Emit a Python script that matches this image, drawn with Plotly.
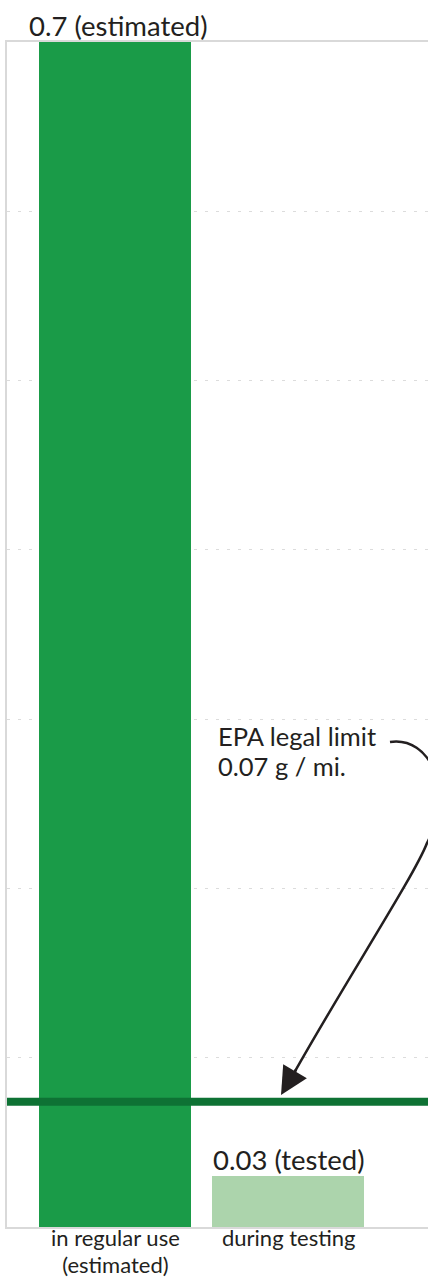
import plotly.graph_objects as go

# ---- data ----
categories = ["in regular use<br>(estimated)", "during testing"]
values = [0.7, 0.03]
value_labels = ["0.7 (estimated)", "0.03 (tested)"]
bar_colors = ["#1a9b48", "#acd4ac"]
epa_limit = 0.074          # drawn position of the legal-limit line
epa_label = "EPA legal limit<br>0.07 g / mi."
y_ticks = [0, 0.1, 0.2, 0.3, 0.4, 0.5, 0.6, 0.7]

TEXT = "#231f20"
FONT = "Lato"

W, H = 428, 1278
ML, MR, MT, MB = 7, 0, 42, 51
PW, PH = W - ML - MR, H - MT - MB


def px_to_paper(px, py):
    return (px - ML) / PW, (H - MB - py) / PH


def sized(text, size):
    # keep visual size while the base font size controls the line spacing
    return "<br>".join(f'<span style="font-size:{size}px">{t}</span>' for t in text.split("<br>"))


fig = go.Figure()
fig.add_trace(go.Bar(
    x=list(range(len(categories))), y=values,
    marker=dict(color=bar_colors, line=dict(width=0)),
    width=0.88, hoverinfo="skip",
))

# value labels above the bars
for i, (v, lab) in enumerate(zip(values, value_labels)):
    fig.add_annotation(x=i, y=v, text=lab, showarrow=False, yanchor="bottom",
                       yshift=-2, xshift=3 if i == 0 else 0,
                       font=dict(family=FONT, size=27.5, color=TEXT))

# category labels under the bars
for i, cat in enumerate(categories):
    fig.add_annotation(x=i, y=0, yref="paper", text=sized(cat, 22), showarrow=False,
                       yanchor="top", yshift=5, align="center",
                       font=dict(family=FONT, size=20.5, color=TEXT))

# legal limit line
fig.add_shape(type="line", xref="paper", yref="y", x0=0, x1=1,
              y0=epa_limit, y1=epa_limit, line=dict(color="#0e7234", width=8),
              layer="above")

# EPA label
lx, ly = px_to_paper(216, 751)
fig.add_annotation(xref="paper", yref="paper", x=lx, y=ly, text=sized(epa_label, 25.5),
                   showarrow=False, xanchor="left", yanchor="middle", align="left",
                   font=dict(family=FONT, size=23.46, color=TEXT))

# curved arrow path
pts = [(390, 742), (430, 736), (455, 790), (427, 843),
       (415, 875), (340, 990), (289, 1082)]
pp = [px_to_paper(*p) for p in pts]
path = "M {:.5f},{:.5f} C {:.5f},{:.5f} {:.5f},{:.5f} {:.5f},{:.5f} C {:.5f},{:.5f} {:.5f},{:.5f} {:.5f},{:.5f}".format(
    *[c for p in pp for c in p])
fig.add_shape(type="path", xref="paper", yref="paper", path=path,
              line=dict(color=TEXT, width=2.5), layer="above")
tx, ty = px_to_paper(281, 1095)
fig.add_annotation(xref="paper", yref="paper", x=tx, y=ty, text="",
                   showarrow=True, arrowhead=2, arrowsize=2.2, arrowwidth=2.5,
                   arrowcolor=TEXT, ax=16, ay=-27, standoff=0)

fig.update_layout(
    width=W, height=H,
    margin=dict(l=ML, r=MR, t=MT, b=MB, pad=0, autoexpand=False),
    paper_bgcolor="white", plot_bgcolor="white",
    showlegend=False, bargap=0,
    xaxis=dict(
        range=[(ML - 115) / 173, (W - 115) / 173],
        tickmode="array", tickvals=list(range(len(categories))),
        showticklabels=False,
        showgrid=False, zeroline=False, ticks="", automargin=False,
        showline=True, linecolor="#d9d9d9", linewidth=1.5, mirror=True,
    ),
    yaxis=dict(
        range=[0, 0.7], tickvals=y_ticks, showticklabels=False, automargin=False,
        showgrid=True, gridcolor="#dcdcdc", gridwidth=1, griddash="3px,8px",
        zeroline=False, ticks="",
        showline=True, linecolor="#d9d9d9", linewidth=1.5,
    ),
)

fig.write_html("out.html")
